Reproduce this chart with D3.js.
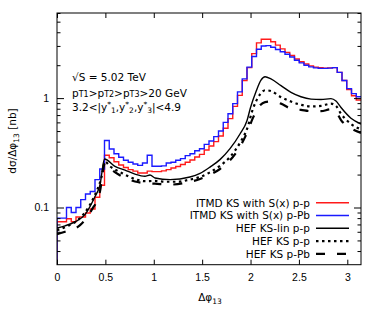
<!DOCTYPE html>
<html>
<head>
<meta charset="utf-8">
<script src="https://cdn.jsdelivr.net/npm/d3@7"></script>
<style>
  body { margin: 0; background: #fff; }
  svg { font-family: "DejaVu Sans", sans-serif; }
  .axis line { stroke: #000; stroke-width: 1; }
  .axis text { font-size: 10.5px; fill: #000; }
</style>
</head>
<body>
<svg id="chart" width="382" height="318"></svg>
<script>
// 64 bins of pi/64 between 0 and pi
const nBins = 64;
const itmdPP = [0.074, 0.074, 0.079, 0.074, 0.082, 0.082, 0.089, 0.097, 0.124, 0.16,
  0.30, 0.285, 0.262, 0.245, 0.232, 0.222, 0.215, 0.207, 0.207, 0.215,
  0.213, 0.213, 0.216, 0.222, 0.23, 0.237, 0.247, 0.259, 0.272, 0.29,
  0.306, 0.336, 0.365, 0.40, 0.45, 0.53, 0.65, 0.84, 1.06, 1.45,
  1.9, 2.55, 3.2, 3.45, 3.45, 3.28, 3.05, 2.82, 2.62, 2.45,
  2.28, 2.15, 2.05, 1.97, 1.92, 1.90, 1.88, 1.89, 1.90, 1.72,
  1.45, 1.20, 1.05, 0.96];
const itmdPPb = [0.080, 0.080, 0.100, 0.090, 0.100, 0.118, 0.133, 0.140, 0.180, 0.225,
  0.41, 0.343, 0.31, 0.288, 0.27, 0.259, 0.25, 0.243, 0.255, 0.30,
  0.238, 0.238, 0.24, 0.255, 0.259, 0.27, 0.28, 0.298, 0.31, 0.33,
  0.345, 0.378, 0.405, 0.445, 0.50, 0.60, 0.72, 0.89, 1.14, 1.5,
  1.92, 2.4, 2.8, 3.0, 3.02, 2.92, 2.78, 2.65, 2.52, 2.38,
  2.22, 2.10, 2.0, 1.93, 1.89, 1.87, 1.87, 1.88, 1.90, 1.72,
  1.45, 1.22, 1.10, 1.03];

// HEF curves: [dphi, value]
const hefLinPP = [[0, 0.065], [0.083, 0.068], [0.186, 0.074], [0.289, 0.086], [0.393, 0.126],
  [0.444, 0.16], [0.491, 0.278], [0.599, 0.238], [0.703, 0.22], [0.806, 0.202],
  [0.909, 0.193], [0.961, 0.198], [1.013, 0.186], [1.168, 0.18], [1.374, 0.19],
  [1.478, 0.205], [1.581, 0.234], [1.684, 0.274], [1.788, 0.345], [1.891, 0.47],
  [1.963, 0.62], [2.0, 0.82], [2.057, 1.15], [2.108, 1.46], [2.15, 1.57],
  [2.211, 1.50], [2.315, 1.30], [2.418, 1.13], [2.521, 1.03], [2.625, 0.98],
  [2.728, 0.97], [2.831, 0.99], [2.883, 0.94], [2.935, 0.82], [3.038, 0.655], [3.1416, 0.58]];
const hefPP = [[0, 0.062], [0.114, 0.068], [0.217, 0.077], [0.321, 0.099], [0.393, 0.131],
  [0.46, 0.19], [0.495, 0.262], [0.548, 0.238], [0.668, 0.207], [0.806, 0.182],
  [0.909, 0.174], [1.013, 0.175], [1.116, 0.172], [1.24, 0.172], [1.374, 0.18],
  [1.478, 0.19], [1.581, 0.21], [1.684, 0.24], [1.788, 0.29], [1.891, 0.39],
  [1.963, 0.52], [2.025, 0.80], [2.098, 1.08], [2.15, 1.18], [2.211, 1.16],
  [2.315, 1.02], [2.418, 0.93], [2.521, 0.87], [2.625, 0.84], [2.728, 0.85],
  [2.831, 0.89], [2.883, 0.85], [2.935, 0.72], [3.038, 0.58], [3.1416, 0.52]];
const hefPPb = [[0, 0.057], [0.083, 0.06], [0.238, 0.069], [0.358, 0.095], [0.444, 0.14],
  [0.495, 0.255], [0.565, 0.222], [0.668, 0.193], [0.806, 0.173], [0.909, 0.167],
  [1.013, 0.165], [1.168, 0.162], [1.374, 0.172], [1.478, 0.182], [1.581, 0.2],
  [1.684, 0.225], [1.788, 0.27], [1.891, 0.36], [1.963, 0.48], [2.025, 0.66],
  [2.098, 0.86], [2.15, 0.92], [2.211, 0.93], [2.315, 0.89], [2.418, 0.80],
  [2.521, 0.78], [2.625, 0.76], [2.728, 0.76], [2.831, 0.79], [2.883, 0.75],
  [2.935, 0.63], [3.038, 0.53], [3.1416, 0.48]];

const xTicks = [0, 0.5, 1, 1.5, 2, 2.5, 3];
const yMajor = [0.1, 1];
const yMinor = [0.04, 0.05, 0.06, 0.07, 0.08, 0.09, 0.2, 0.3, 0.4, 0.5, 0.6, 0.7, 0.8, 0.9, 2, 3, 4, 5, 6];

const legendItems = [
  { label: 'ITMD KS with S(x) p-p', color: '#ff1a1a', dash: null, w: 1.4 },
  { label: 'ITMD KS with S(x) p-Pb', color: '#1a1aff', dash: null, w: 1.4 },
  { label: 'HEF KS-lin p-p', color: '#000', dash: null, w: 1.4 },
  { label: 'HEF KS p-p', color: '#000', dash: '2.5,3.5', w: 2.2 },
  { label: 'HEF KS p-Pb', color: '#000', dash: '9,12', w: 2.2 }
];

const pLeft = 57, pTop = 13, pRight = 361, pBottom = 264.7;

const svg = d3.select('#chart');

const x = d3.scaleLinear().domain([0, Math.PI]).range([pLeft, pRight]);
const y = d3.scaleLog().domain([0.03, 6]).range([pBottom, pTop]);

svg.append('clipPath').attr('id', 'clip')
  .append('rect')
  .attr('x', pLeft).attr('y', pTop)
  .attr('width', pRight - pLeft).attr('height', pBottom - pTop);

const plot = svg.append('g').attr('clip-path', 'url(#clip)');

// histogram as steps, starting from the bottom at the first edge
function histPath(values) {
  const pts = [[x(0), pBottom + 2]];
  values.forEach((v, i) => {
    pts.push([x(i * Math.PI / nBins), y(v)]);
    pts.push([x((i + 1) * Math.PI / nBins), y(v)]);
  });
  return d3.line()(pts);
}

plot.append('path')
  .attr('d', histPath(itmdPP))
  .attr('fill', 'none').attr('stroke', legendItems[0].color).attr('stroke-width', legendItems[0].w);
plot.append('path')
  .attr('d', histPath(itmdPPb))
  .attr('fill', 'none').attr('stroke', legendItems[1].color).attr('stroke-width', legendItems[1].w);

const curve = d3.line()
  .x(d => x(d[0]))
  .y(d => y(d[1]))
  .curve(d3.curveMonotoneX);

[hefLinPP, hefPP, hefPPb].forEach((data, i) => {
  const item = legendItems[i + 2];
  plot.append('path')
    .attr('d', curve(data))
    .attr('fill', 'none')
    .attr('stroke', item.color)
    .attr('stroke-width', item.w)
    .attr('stroke-dasharray', item.dash);
});

// axes, ticks pointing inwards on all sides
const fmt = d => d === 0 ? '0' : String(d);
svg.append('g').attr('class', 'axis')
  .attr('transform', `translate(0,${pBottom})`)
  .call(d3.axisBottom(x).tickValues(xTicks).tickFormat(fmt).tickSizeInner(-5).tickSizeOuter(0).tickPadding(9));
svg.append('g').attr('class', 'axis')
  .attr('transform', `translate(0,${pTop})`)
  .call(d3.axisTop(x).tickValues(xTicks).tickFormat('').tickSizeInner(-5).tickSizeOuter(0));

svg.append('g').attr('class', 'axis')
  .attr('transform', `translate(${pLeft},0)`)
  .call(d3.axisLeft(y).tickValues(yMajor).tickFormat(d => String(d)).tickSizeInner(-7).tickSizeOuter(0).tickPadding(8));
svg.append('g').attr('class', 'axis')
  .attr('transform', `translate(${pLeft},0)`)
  .call(d3.axisLeft(y).tickValues(yMinor).tickFormat('').tickSizeInner(-3.5).tickSizeOuter(0));
svg.append('g').attr('class', 'axis')
  .attr('transform', `translate(${pRight},0)`)
  .call(d3.axisRight(y).tickValues(yMajor).tickFormat('').tickSizeInner(-7).tickSizeOuter(0));
svg.append('g').attr('class', 'axis')
  .attr('transform', `translate(${pRight},0)`)
  .call(d3.axisRight(y).tickValues(yMinor).tickFormat('').tickSizeInner(-3.5).tickSizeOuter(0));

svg.selectAll('.axis .domain').remove();

svg.append('rect')
  .attr('x', pLeft).attr('y', pTop)
  .attr('width', pRight - pLeft).attr('height', pBottom - pTop)
  .attr('fill', 'none').attr('stroke', '#000').attr('stroke-width', 1);

// text with sub/superscripts: parts are [text, size, offset]
function richText(g, parts) {
  let prev = 0;
  parts.forEach(([t, size, off]) => {
    g.append('tspan')
      .attr('font-size', size)
      .attr('dy', off - prev)
      .text(t);
    prev = off;
  });
  return g;
}

// axis titles
richText(svg.append('text')
  .attr('x', 210).attr('y', 301)
  .attr('text-anchor', 'middle')
  .attr('font-size', 10.5),
  [['Δφ', 10.5, 0], ['13', 7.5, 2.5]]);

richText(svg.append('text')
  .attr('transform', 'translate(16,141) rotate(-90)')
  .attr('text-anchor', 'middle')
  .attr('font-size', 10.5),
  [['dσ/Δφ', 10.5, 0], ['13', 7.5, 2.5], [' [nb]', 10.5, 0]]);

// annotation
const ann = svg.append('g').attr('font-size', 10.5);
ann.append('text').attr('x', 72).attr('y', 81).text('√S = 5.02 TeV');
richText(ann.append('text').attr('x', 72).attr('y', 96.5),
  [['p', 10.5, 0], ['T1', 8, 0.5], ['>p', 10.5, 0], ['T2', 8, 0.5], ['>p', 10.5, 0], ['T3', 8, 0.5], ['>20 GeV', 10.5, 0]]);
richText(ann.append('text').attr('x', 72).attr('y', 111),
  [['3.2<|y', 10.5, 0], ['*', 7.5, -4], ['1', 7.5, 2], [',y', 10.5, 0], ['*', 7.5, -4], ['2', 7.5, 2],
   [',y', 10.5, 0], ['*', 7.5, -4], ['3', 7.5, 2], ['|<4.9', 10.5, 0]]);

// legend
const legend = svg.append('g').attr('font-size', 10.5);
legendItems.forEach((item, i) => {
  const ly = 202.7 + i * 12.8;
  legend.append('text')
    .attr('x', 310).attr('y', ly + 3.8)
    .attr('text-anchor', 'end')
    .text(item.label);
  legend.append('line')
    .attr('x1', 316).attr('x2', 349)
    .attr('y1', ly).attr('y2', ly)
    .attr('stroke', item.color)
    .attr('stroke-width', item.w)
    .attr('stroke-dasharray', item.dash);
});
</script>
</body>
</html>
